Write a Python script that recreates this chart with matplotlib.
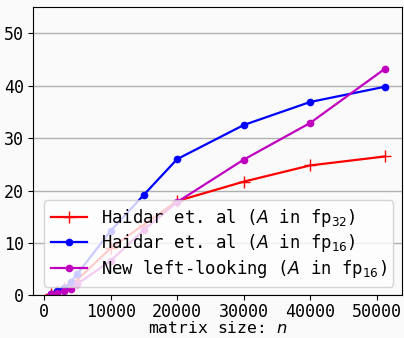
import matplotlib
matplotlib.use("Agg")
import matplotlib.pyplot as plt

n = [1000, 2000, 3000, 4000, 5000, 10000, 15000, 20000, 30000, 40000, 51200]
haidar_fp32 = [0.3, 0.8, 1.4, 2.0, 3.0, 9.0, 13.5, 18.0, 21.7, 24.8, 26.5]
haidar_fp16 = [0.3, 0.8, 1.5, 2.5, 4.1, 12.3, 19.2, 26.0, 32.5, 36.9, 39.8]
new_left = [0.2, 0.5, 0.9, 1.3, 2.2, 6.6, 12.5, 17.8, 25.9, 32.9, 43.2]

plt.rcParams['font.family'] = ['DejaVu Sans Mono', 'DejaVu Sans']
plt.rcParams['mathtext.fontset'] = 'dejavusans'
plt.rcParams['font.size'] = 12

fig = plt.figure(figsize=(4.04, 3.38), dpi=100, facecolor='#fafafa')
ax = fig.add_axes([0.082, 0.126, 0.913, 0.853], facecolor='#fafafa')

ax.plot(n, haidar_fp32, color='red', marker='+', markersize=9, lw=1.6,
        label=r'Haidar et. al ($A$ in fp$_{32}$)')
ax.plot(n, haidar_fp16, color='blue', marker='.', markersize=9, lw=1.6,
        label=r'Haidar et. al ($A$ in fp$_{16}$)')
ax.plot(n, new_left, color='m', marker='.', markersize=9, lw=1.6,
        label=r'New left-looking ($A$ in fp$_{16}$)')

ax.set_xlim(-1650, 53800)
ax.set_ylim(0, 55)
ax.set_yticks([0, 10, 20, 30, 40, 50])
ax.set_xticks([0, 10000, 20000, 30000, 40000, 50000])
ax.yaxis.grid(True, color='#b0b0b0', lw=1)
ax.set_axisbelow(True)
ax.set_xlabel(r'matrix size: $n$', labelpad=-1, fontsize=11.8)
ax.tick_params(axis='x', length=3.5, pad=2)
ax.tick_params(axis='y', length=3.5, pad=3)
for s in ax.spines.values():
    s.set_color('black')

ax.legend(loc='lower right', framealpha=0.8, handlelength=2.1, borderpad=0.4,
          labelspacing=0.2, handletextpad=0.8, borderaxespad=0.5,
          prop={'size': 12.4})

fig.savefig('out.png', dpi=100, facecolor=fig.get_facecolor())
